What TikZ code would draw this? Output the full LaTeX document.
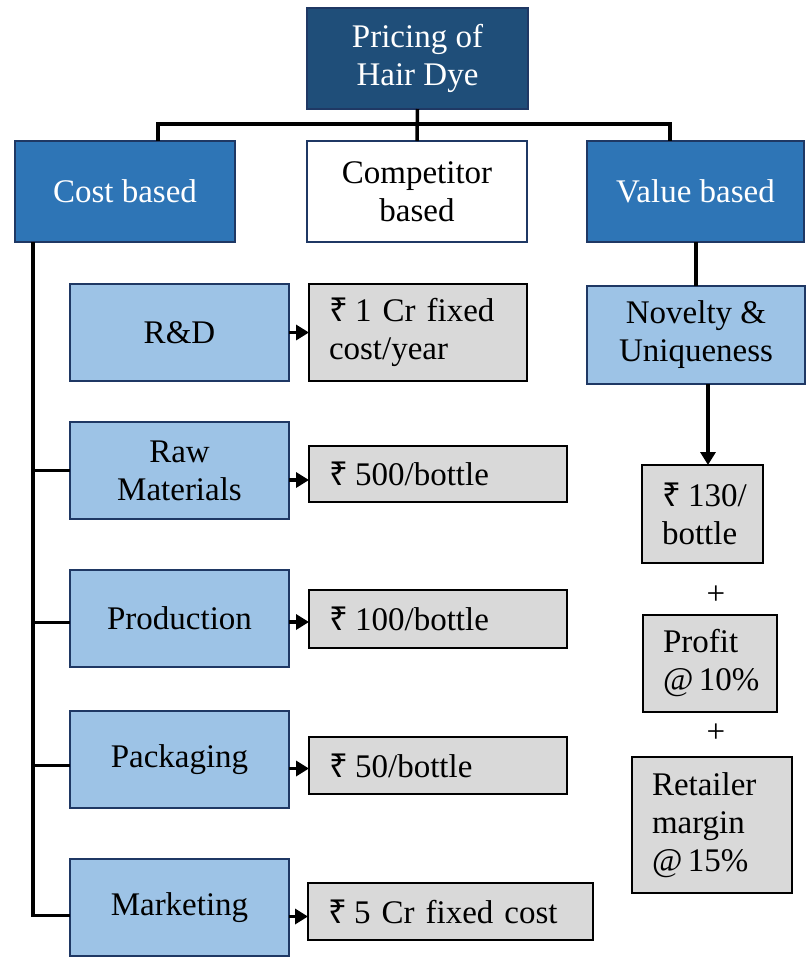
\documentclass[tikz,border=0pt]{standalone}
\usepackage{fontspec}
\setmainfont{Liberation Serif}
\newfontfamily\rupeefont{Noto Sans}
\usetikzlibrary{arrows.meta,calc}
\newcommand{\rs}{{\rupeefont\char"20B9}\nobreak\hspace{0.22em}}
\definecolor{navy}{HTML}{1F4E79}
\definecolor{midblue}{HTML}{2E75B6}
\definecolor{lightblue}{HTML}{9DC3E6}
\definecolor{edgeblue}{HTML}{1F3864}
\definecolor{boxgray}{HTML}{D9D9D9}
\tikzset{
  txt/.style={font=\fontsize{33}{38}\selectfont},
  box/.style={txt, draw=edgeblue, line width=2pt, inner sep=0pt, outer sep=0pt,
    anchor=north west, align=center},
  topbox/.style={box, fill=navy, text=white},
  catbox/.style={box, fill=midblue, text=white},
  plainbox/.style={box, fill=white},
  itembox/.style={box, fill=lightblue},
  valbox/.style={txt, draw=black, line width=1.6pt, fill=boxgray, outer sep=0pt,
    inner xsep=20pt, inner ysep=0pt, anchor=north west, align=left},
  link/.style={draw=black, line width=3.5pt},
  arr/.style={link, -{Triangle[length=13pt,width=15pt]}},
}
\begin{document}
\begin{tikzpicture}[x=1pt,y=-1pt]
\useasboundingbox (0,0) rectangle (806,959);

% top level and the three pricing approaches
\node[topbox, minimum width=221pt, minimum height=101pt] (top) at (307,8) {Pricing of\\Hair Dye};
\node[catbox, minimum width=220pt, minimum height=101pt] (cost) at (15,141) {Cost based};
\node[plainbox, minimum width=220pt, minimum height=101pt] (comp) at (307,141) {Competitor\\based};
\node[catbox, minimum width=217pt, minimum height=101pt] (value) at (587,141) {Value based};

% cost components
\node[itembox, minimum width=219pt, minimum height=97pt] (rd) at (70,284) {R\&D};
\node[itembox, minimum width=219pt, minimum height=97pt] (raw) at (70,422) {Raw\\Materials};
\node[itembox, minimum width=219pt, minimum height=97pt] (prod) at (70,570) {Production};
\node[itembox, minimum width=219pt, minimum height=97pt] (pack) at (70,711) {Packaging};
\node[itembox, minimum width=219pt, minimum height=97pt] (mkt) at (70,859) {Marketing};

% cost figures
\node[valbox, text width=178pt, minimum height=97pt] (rdv) at (309,284) {\rs 1 Cr fixed\\cost/year};
\node[valbox, text width=218pt, minimum height=56pt] (rawv) at (309,446) {\rs 500/bottle};
\node[valbox, text width=218pt, minimum height=58pt] (prodv) at (309,590) {\rs 100/bottle};
\node[valbox, text width=218pt, minimum height=57pt] (packv) at (309,737) {\rs 50/bottle};
\node[valbox, text width=245pt, minimum height=57pt] (mktv) at (308,883) {\rs 5 Cr fixed cost};

% value based chain
\node[itembox, minimum width=218pt, minimum height=98pt] (nov) at (587,286) {Novelty \&\\Uniqueness};
\node[valbox, text width=81pt, minimum height=98pt] (base) at (642,465) {\rs 130/\\bottle};
\node[valbox, text width=94pt, minimum height=97pt] (profit) at (643,615) {Profit\\@\,10\%};
\node[valbox, text width=120pt, minimum height=136pt] (retail) at (632,757) {Retailer\\margin\\@\,15\%};
\node[txt, inner sep=0pt] (plusa) at (716,595) {+};
\node[txt, inner sep=0pt] (plusb) at (716,733) {+};

% tree connectors
\coordinate (busl) at (158,124);
\coordinate (busr) at (670,124);
\coordinate (trunk) at (33,0);
\coordinate (drop) at (708,0);
\draw[link] (top.south) -- (comp.north);
\draw[link] (busl |- cost.north) -- (busl) -- (busr) -- (busr |- value.north);
\draw[link] (value.south -| nov.north) -- (nov.north);
\draw[arr] (nov.south -| drop) -- (base.north -| drop);

% cost trunk and branches
\draw[link] (cost.south -| trunk) |- ([yshift=-8pt]mkt.west);
\draw[link] (raw.west -| trunk) -- (raw.west);
\draw[link] ([yshift=-4pt]prod.west -| trunk) -- ([yshift=-4pt]prod.west);
\draw[link] ([yshift=-6pt]pack.west -| trunk) -- ([yshift=-6pt]pack.west);

% arrows to the figures
\draw[arr] (rd.east |- rdv.west) -- (rdv.west);
\draw[arr] ([yshift=-6pt]raw.east |- rawv.west) -- ([yshift=-6pt]rawv.west);
\draw[arr] ([yshift=-3pt]prod.east |- prodv.west) -- ([yshift=-3pt]prodv.west);
\draw[arr] ([yshift=-3pt]pack.east |- packv.west) -- ([yshift=-3pt]packv.west);
\draw[arr] ([yshift=-5pt]mkt.east |- mktv.west) -- ([yshift=-5pt]mktv.west);
\end{tikzpicture}
\end{document}
